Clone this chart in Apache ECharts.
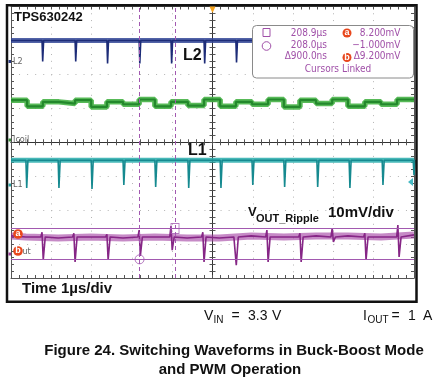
<!DOCTYPE html>
<html><head><meta charset="utf-8">
<script src="https://cdn.jsdelivr.net/npm/echarts/dist/echarts.min.js"></script>
<style>html,body{margin:0;padding:0;background:#fff;}#c{width:439px;height:381px;}</style>
</head><body><div id="c"></div>
<script>
// ---------------- data: time in µs relative to screen centre, amplitude in divisions ----------------
// L2 switch node (dark blue)
const l2Level = 3.0;
const l2SpikeT   = [-4.23, -3.41, -2.62, -1.82, -1.03, -0.21, 0.58, 1.38, 2.17, 2.99, 3.78, 4.58];
const l2SpikeMin = [2.38, 2.38, 2.32, 2.32, 2.32, 2.32, 2.35, 2.35, 2.35, 2.35, 2.35, 2.35];
// Icoil (green), level held from each time until the next
const icoilT = [-5, -4.60, -4.21, -3.81, -3.41, -3.01, -2.62, -2.22, -1.82, -1.43, -1.03, -0.61, -0.21,
                0.19, 0.58, 0.98, 1.38, 1.77, 2.17, 2.57, 2.97, 3.36, 3.78, 4.18, 4.58, 5];
const icoilV = [1.24, 1.06, 1.19, 1.14, 1.24, 1.04, 1.19, 1.12, 1.26, 1.06, 1.19, 1.08, 1.26,
                1.06, 1.19, 1.12, 1.26, 1.04, 1.24, 1.14, 1.26, 1.06, 1.19, 1.12, 1.26, 1.26];
// L1 switch node (teal)
const l1Level = -0.53;
const l1SpikeT   = [-4.63, -3.83, -3.01, -2.22, -1.43, -0.61, 0.19, 0.98, 1.77, 2.59, 3.39, 4.21, 4.98];
const l1SpikeMin = [-1.35, -1.35, -1.38, -1.26, -1.32, -1.35, -1.35, -1.26, -1.32, -1.32, -1.35, -1.26, -0.97];
// VOUT ripple (purple)
const voutLevel = -2.79;
const voutMidT = [-5, -4.63, -3.83, -3.03, -2.22, -1.43, -0.63, 0.17, 0.96, 1.77, 2.57, 3.36, 4.18, 5];
const voutMidV = [-2.76, -2.79, -2.82, -2.79, -2.82, -2.79, -2.82, -2.82, -2.76, -2.79, -2.76, -2.76, -2.79, -2.73];
const voutEvT    = [-4.23, -3.44, -2.62, -1.82, -1.03, -0.24, 0.56, 1.35, 2.17, 2.97, 3.78, 4.60];
const voutEvUp   = [-2.65, -2.68, -2.71, -2.59, -2.47, -2.65, -2.76, -2.59, -2.68, -2.53, -2.68, -2.44];
const voutEvDown = [-3.47, -3.53, -3.47, -3.35, -3.18, -3.53, -3.62, -3.53, -3.53, -2.94, -3.47, -3.38];
// cursors: times (208.0 µs, 208.9 µs) and levels (a = 8.2 mV, b = -1.0 mV)
const cursorT = [-1.81, -0.93];
const cursorV = [-2.54, -3.45];
// cursor readout
const readTimes = ['208.9µs', '208.0µs', 'Δ900.0ns'];
const readVolts = ['8.200mV', '−1.000mV', 'Δ9.200mV'];

// ---------------- build series data ----------------
function spikeTrace(level, ts, mins, w) {
  const d = [[-5, level]];
  ts.forEach((t, i) => { d.push([t, level], [t + w * 0.4, mins[i]], [t + w, level]); });
  d.push([5, level]);
  return d;
}
const l2Data = spikeTrace(l2Level, l2SpikeT, l2SpikeMin, 0.04);
const l1Data = spikeTrace(l1Level, l1SpikeT, l1SpikeMin, 0.05);
const icoilData = icoilT.map((t, i) => [t, icoilV[i]]);
const voutBand = voutMidT.map((t, i) => [t, voutMidV[i]]);
const voutCore = voutBand.slice();
voutEvT.forEach((t, i) => {
  voutCore.push([t - 0.03, voutLevel], [t, voutEvUp[i]], [t + 0.03, voutEvDown[i]], [t + 0.08, voutLevel]);
});
voutCore.sort((a, b) => a[0] - b[0]);

// ---------------- axes ----------------
const AX = '#555';
const GRIDC = '#b4b4b4';
function xAxisDef(position, onZero, inside, split) {
  return {
    type: 'value', min: -5, max: 5, interval: 1, position: position,
    axisLabel: { show: false },
    axisLine: { show: true, onZero: onZero, onZeroAxisIndex: 0, lineStyle: { color: onZero ? '#333' : AX, width: 1 } },
    axisTick: { show: true, inside: inside, length: 3, lineStyle: { color: AX } },
    minorTick: { show: true, splitNumber: 5, length: 3, lineStyle: { color: AX } },
    splitLine: { show: split, lineStyle: { color: GRIDC, width: 1, type: [1, 5.79] } }
  };
}
function yAxisDef(position, onZero, inside, split) {
  return {
    type: 'value', min: -4, max: 4, interval: 1, position: position,
    axisLabel: { show: false },
    axisLine: { show: true, onZero: onZero, onZeroAxisIndex: 0, lineStyle: { color: onZero ? '#333' : AX, width: 1 } },
    axisTick: { show: true, inside: inside, length: 3, lineStyle: { color: AX } },
    minorTick: { show: true, splitNumber: 5, length: 3, lineStyle: { color: AX } },
    splitLine: { show: split, lineStyle: { color: GRIDC, width: 1, type: [1, 7.06] } }
  };
}

function line(data, color, width, extra) {
  return Object.assign({
    type: 'line', data: data, symbol: 'none', silent: true, animation: false,
    lineStyle: { color: color, width: width }, z: 3
  }, extra || {});
}

// ---------------- graphics ----------------
const SANS = "'Liberation Sans', Arial, sans-serif";
const NARROW = "'Liberation Sans Narrow', 'DejaVu Sans Condensed', sans-serif";
const PURPLE = '#a050a8';
function txt(text, x, y, font, fill, align, z) {
  return { type: 'text', z: z || 80, silent: true,
    style: { text: text, x: x, y: y, font: font, fill: fill,
      textAlign: align || 'left', textVerticalAlign: 'middle', align: align || 'left', verticalAlign: 'middle' } };
}
function badge(letter, cx, cy, r, z) {
  return [
    { type: 'circle', z: z, silent: true, shape: { cx: cx, cy: cy, r: r }, style: { fill: '#e8471d' } },
    txt(letter, cx, cy, 'bold 9px ' + SANS, '#fff', 'center', z + 1)
  ];
}
const g = [];
// outer frame
g.push({ type: 'rect', z: 60, silent: true, shape: { x: 7, y: 5.2, width: 409.5, height: 296.5 },
  style: { fill: 'transparent', stroke: '#111', lineWidth: 2.5 } });
// trigger marker and L1 level arrow
g.push({ type: 'polygon', z: 61, silent: true, shape: { points: [[209.5, 6.5], [215.5, 6.5], [212.5, 13]] }, style: { fill: '#f4a21d' } });
g.push({ type: 'polygon', z: 61, silent: true, shape: { points: [[408, 182], [413, 178], [413, 186]] }, style: { fill: '#45b9c3' } });
// channel ground labels
const chLabels = [['L2', 61.5, '#2a3a80'], ['Icoil', 140, '#3a8a3a'], ['L1', 185, '#2a9ea0']];
chLabels.forEach(c => {
  g.push({ type: 'rect', z: 62, silent: true, shape: { x: 8.5, y: c[1] - 1.5, width: 2.5, height: 3 }, style: { fill: c[2] } });
  g.push(txt(c[0], 13, c[1], '9px ' + NARROW, '#666', 'left', 62));
});
g.push({ type: 'rect', z: 62, silent: true, shape: { x: 8.5, y: 252.5, width: 2.5, height: 3 }, style: { fill: '#9a3a9a' } });
g.push(txt('out', 17.5, 252, '9px ' + NARROW, '#666', 'left', 62));
badge('a', 18, 234, 4.8, 63).forEach(e => g.push(e));
badge('b', 18, 251, 4.8, 63).forEach(e => g.push(e));
// cursor readout box
g.push({ type: 'rect', z: 70, silent: true, shape: { x: 252.5, y: 25.5, width: 161, height: 52.5, r: 4 },
  style: { fill: '#fff', stroke: '#8a8a8a', lineWidth: 1 } });
g.push({ type: 'rect', z: 71, silent: true, shape: { x: 263, y: 28.5, width: 7, height: 8 }, style: { fill: 'transparent', stroke: PURPLE, lineWidth: 1 } });
g.push({ type: 'circle', z: 71, silent: true, shape: { cx: 266.5, cy: 46, r: 4.3 }, style: { fill: 'transparent', stroke: PURPLE, lineWidth: 1 } });
const rowsY = [33, 45.5, 56];
readTimes.forEach((s, i) => g.push(txt(s, 327, rowsY[i], '10px ' + NARROW, PURPLE, 'right', 72)));
readVolts.forEach((s, i) => g.push(txt(s, 400.5, rowsY[i], '10px ' + NARROW, PURPLE, 'right', 72)));
badge('a', 347, 33, 4.5, 72).forEach(e => g.push(e));
badge('b', 347, 57.5, 4.5, 72).forEach(e => g.push(e));
g.push(txt('Cursors Linked', 338, 69.5, '10px ' + NARROW, PURPLE, 'center', 72));
// annotations
g.push(txt('TPS630242', 14, 17, 'bold 13px ' + SANS, '#111', 'left'));
g.push(txt('L2', 183, 55.5, 'bold 16px ' + SANS, '#111', 'left'));
g.push(txt('L1', 188, 150.5, 'bold 16px ' + SANS, '#111', 'left'));
g.push(txt('V', 248, 212.5, 'bold 13px ' + SANS, '#111', 'left'));
g.push(txt('OUT_Ripple', 256, 218.5, 'bold 11px ' + SANS, '#111', 'left'));
g.push(txt('10mV/div', 328, 213, 'bold 15px ' + SANS, '#111', 'left'));
g.push(txt('Time 1µs/div', 22, 288.5, 'bold 15px ' + SANS, '#111', 'left'));
g.push(txt('V', 204, 316.5, '14px ' + SANS, '#111', 'left'));
g.push(txt('IN', 213.5, 320.5, '10px ' + SANS, '#111', 'left'));
g.push(txt('=', 231.5, 316.5, '14px ' + SANS, '#111', 'left'));
g.push(txt('3.3', 248, 316.5, '14px ' + SANS, '#111', 'left'));
g.push(txt('V', 272, 316.5, '14px ' + SANS, '#111', 'left'));
g.push(txt('I', 363, 316.5, '14px ' + SANS, '#111', 'left'));
g.push(txt('OUT', 367.5, 320.5, '10px ' + SANS, '#111', 'left'));
g.push(txt('=', 391.5, 316.5, '14px ' + SANS, '#111', 'left'));
g.push(txt('1', 408, 316.5, '14px ' + SANS, '#111', 'left'));
g.push(txt('A', 423, 316.5, '14px ' + SANS, '#111', 'left'));
g.push(txt('Figure 24. Switching Waveforms in Buck-Boost Mode', 234, 351, 'bold 15px ' + SANS, '#111', 'center'));
g.push(txt('and PWM Operation', 230, 369.5, 'bold 15px ' + SANS, '#111', 'center'));

// ---------------- chart ----------------
const chart = echarts.init(document.getElementById('c'), null, { renderer: 'canvas' });
chart.setOption({
  animation: false,
  backgroundColor: '#fff',
  grid: { left: 11, top: 6.5, width: 403, height: 271.5, containLabel: false, outerBoundsMode: 'none' },
  xAxis: [
    xAxisDef('bottom', true, false, true),
    xAxisDef('top', true, false, false),
    xAxisDef('top', false, true, false),
    xAxisDef('bottom', false, true, false)
  ],
  yAxis: [
    yAxisDef('left', true, false, true),
    yAxisDef('right', true, false, false),
    yAxisDef('left', false, true, false),
    yAxisDef('right', false, true, false)
  ],
  series: [
    line([[-5, l2Level], [5, l2Level]], 'rgba(52,72,152,0.85)', 5),
    line(l2Data, '#1d2c78', 1.6),
    line(icoilData, 'rgba(70,178,70,0.9)', 5.5, { step: 'end' }),
    line(icoilData, '#23882c', 2.2, { step: 'end' }),
    line([[-5, l1Level], [5, l1Level]], 'rgba(40,172,172,0.85)', 5),
    line(l1Data, '#168a90', 1.6),
    line(voutBand, 'rgba(160,60,160,0.6)', 7),
    line(voutCore, '#862686', 1.6, {
      markLine: {
        symbol: 'none', silent: true, animation: false, label: { show: false },
        lineStyle: { color: '#a259b0', width: 1, type: 'solid' },
        data: [
          { yAxis: cursorV[0] }, { yAxis: cursorV[1] },
          { xAxis: cursorT[0], lineStyle: { type: [4, 3], color: '#a259b0', width: 1 } },
          { xAxis: cursorT[1], lineStyle: { type: [4, 3], color: '#a259b0', width: 1 } }
        ]
      }
    }),
    { type: 'scatter', silent: true, animation: false, z: 5, symbol: 'circle', symbolSize: 9,
      data: [[cursorT[0], cursorV[1]]],
      itemStyle: { color: 'transparent', borderColor: '#a259b0', borderWidth: 1 } },
    { type: 'scatter', silent: true, animation: false, z: 5, symbol: 'rect', symbolSize: [8, 10],
      data: [[cursorT[1], cursorV[0]]],
      itemStyle: { color: 'transparent', borderColor: '#a259b0', borderWidth: 1 } }
  ],
  graphic: { elements: g }
});
</script></body></html>
